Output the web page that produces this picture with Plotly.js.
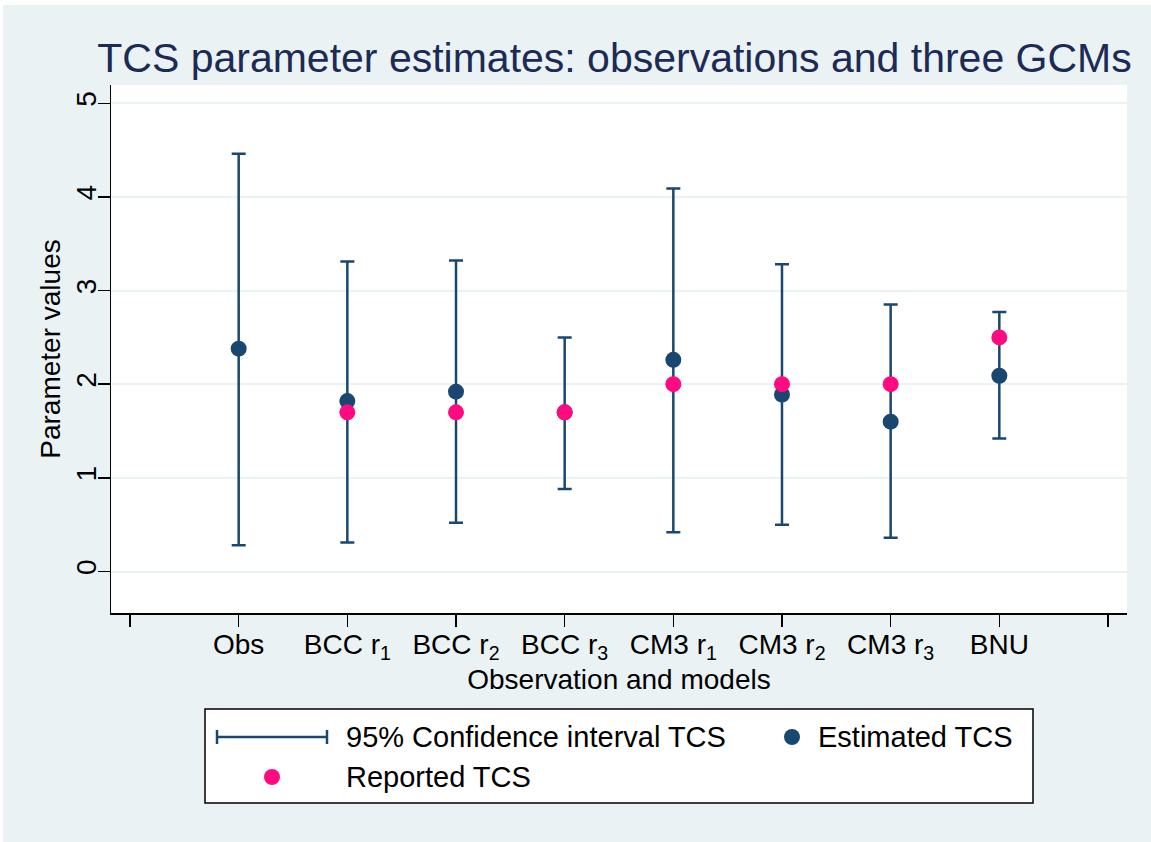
<!DOCTYPE html>
<html>
<head>
<meta charset="utf-8">
<script src="https://cdn.plot.ly/plotly-3.0.1.min.js"></script>
<style>
  html, body { margin: 0; padding: 0; background: #ffffff; }
  #chart { position: absolute; left: 3px; top: 5px; width: 1148px; height: 837px; }
</style>
</head>
<body>
<div id="chart"></div>
<script>
// ---- data ----
const positions = [1, 2, 3, 4, 5, 6, 7, 8];
const categories = ['Obs', 'BCC r<sub>1</sub>', 'BCC r<sub>2</sub>', 'BCC r<sub>3</sub>',
                    'CM3 r<sub>1</sub>', 'CM3 r<sub>2</sub>', 'CM3 r<sub>3</sub>', 'BNU'];
const estimatedTCS = [2.38, 1.82, 1.92, 1.70, 2.26, 1.89, 1.60, 2.09];
const ciLow        = [0.28, 0.31, 0.52, 0.88, 0.42, 0.50, 0.36, 1.42];
const ciHigh       = [4.46, 3.31, 3.32, 2.50, 4.09, 3.28, 2.85, 2.77];
const reportedTCS  = [null, 1.70, 1.70, 1.70, 2.00, 2.00, 2.00, 2.50];
const yTicks = [0, 1, 2, 3, 4, 5];
const xTickVals = [0, 1, 2, 3, 4, 5, 6, 7, 8, 9];
const xTickText = [' '].concat(categories).concat([' ']);

// ---- styling ----
const NAVY = '#1a476f';
const PINK = '#ff0a80';
const BG = '#eaf2f3';
const FONT = 'Liberation Sans, Arial, Helvetica, sans-serif';

const W = 1148, H = 837, L = 108, R = 24, T = 80, B = 229;
const PW = W - L - R, PH = H - T - B;
// page pixel -> paper coords (div offset 3,5)
const px = v => (v - 3 - L) / PW;
const py = v => (H - B - (v - 5)) / PH;

const traceCI = {
  x: positions,
  y: estimatedTCS,
  type: 'scatter',
  mode: 'markers',
  marker: { size: 16, color: NAVY },
  error_y: {
    type: 'data', symmetric: false,
    array: ciHigh.map((h, i) => h - estimatedTCS[i]),
    arrayminus: ciLow.map((l, i) => estimatedTCS[i] - l),
    color: NAVY, thickness: 2.5, width: 7
  },
  name: 'Estimated TCS',
  showlegend: false,
  hoverinfo: 'x+y'
};
const traceRep = {
  x: positions,
  y: reportedTCS,
  type: 'scatter',
  mode: 'markers',
  marker: { size: 16, color: PINK },
  name: 'Reported TCS',
  showlegend: false
};

// ---- custom legend (Stata-style) ----
const lgShapes = [
  { type: 'rect', xref: 'paper', yref: 'paper', x0: px(205), x1: px(1033), y0: py(709), y1: py(803),
    line: { color: '#000', width: 1.5 }, fillcolor: '#fff', layer: 'above' },
  { type: 'line', xref: 'paper', yref: 'paper', x0: px(217), x1: px(327), y0: py(737), y1: py(737),
    line: { color: NAVY, width: 2.5 }, layer: 'above' },
  { type: 'line', xref: 'paper', yref: 'paper', x0: px(217), x1: px(217), y0: py(730), y1: py(744),
    line: { color: NAVY, width: 2.5 }, layer: 'above' },
  { type: 'line', xref: 'paper', yref: 'paper', x0: px(327), x1: px(327), y0: py(730), y1: py(744),
    line: { color: NAVY, width: 2.5 }, layer: 'above' },
  { type: 'circle', xref: 'paper', yref: 'paper', xsizemode: 'pixel', ysizemode: 'pixel',
    xanchor: px(792), yanchor: py(737), x0: -8, x1: 8, y0: -8, y1: 8,
    fillcolor: NAVY, line: { width: 0 }, layer: 'above' },
  { type: 'circle', xref: 'paper', yref: 'paper', xsizemode: 'pixel', ysizemode: 'pixel',
    xanchor: px(272), yanchor: py(777), x0: -8, x1: 8, y0: -8, y1: 8,
    fillcolor: PINK, line: { width: 0 }, layer: 'above' }
];
const lgFont = { family: FONT, size: 29, color: '#000' };
const lgAnn = [
  { text: '95% Confidence interval TCS', x: px(344), y: py(737) },
  { text: 'Estimated TCS', x: px(816), y: py(737) },
  { text: 'Reported TCS', x: px(344), y: py(777) }
].map(a => Object.assign({ xref: 'paper', yref: 'paper', xanchor: 'left', yanchor: 'middle',
  showarrow: false, font: lgFont }, a));

const layout = {
  width: W, height: H,
  margin: { l: L, r: R, t: T, b: B, pad: 0 },
  paper_bgcolor: BG,
  plot_bgcolor: '#ffffff',
  font: { family: FONT, size: 28, color: '#000' },
  title: {
    text: 'TCS parameter estimates: observations and three GCMs',
    font: { family: FONT, size: 41, color: '#1c2b55' },
    xref: 'paper', x: px(614.5), xanchor: 'center',
    yref: 'container', y: 1 - (58 - 5) / H, yanchor: 'middle'
  },
  xaxis: {
    range: [-0.175, 9.175],
    tickvals: xTickVals, ticktext: xTickText,
    ticks: 'outside', ticklen: 12, tickwidth: 1.5, tickcolor: '#000',
    ticklabelstandoff: -6,
    showline: true, linecolor: '#000', linewidth: 1.5,
    showgrid: false, zeroline: false,
    tickfont: { family: FONT, size: 28, color: '#000' },
    title: { text: 'Observation and models', font: { family: FONT, size: 28, color: '#000' }, standoff: 0 }
  },
  yaxis: {
    range: [-0.443, 5.195],
    tickvals: yTicks,
    ticks: 'outside', ticklen: 12, tickwidth: 1.5, tickcolor: '#000',
    tickangle: -90,
    ticklabelstandoff: -10,
    showline: true, linecolor: '#000', linewidth: 1.5,
    showgrid: true, gridcolor: BG, gridwidth: 2,
    zeroline: false,
    tickfont: { family: FONT, size: 28, color: '#000' },
    title: { text: 'Parameter values', font: { family: FONT, size: 28, color: '#000' }, standoff: 2 }
  },
  shapes: lgShapes,
  annotations: lgAnn,
  showlegend: false
};

Plotly.newPlot('chart', [traceCI, traceRep], layout, { displayModeBar: false, staticPlot: true });
</script>
</body>
</html>
